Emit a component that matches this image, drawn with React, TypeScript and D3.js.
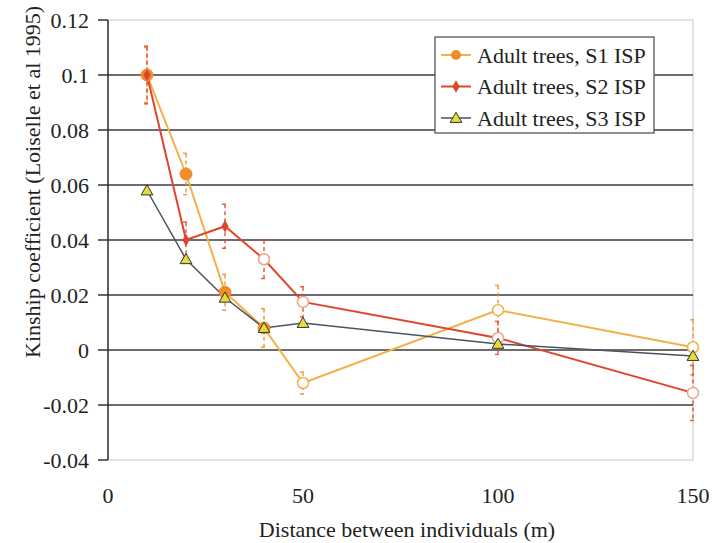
import React from "react";
import * as d3 from "d3";

// Distance classes (m) and kinship coefficients per sampling scheme
const distances = [10, 20, 30, 40, 50, 100, 150];
const s1Values = [0.1, 0.064, 0.021, 0.008, -0.012, 0.0145, 0.001];
const s1Errors = [0.01, 0.0075, 0.0065, 0.007, 0.004, 0.009, 0.01];
const s1Significant = [true, true, true, true, false, false, false];
const s2Values = [0.1, 0.04, 0.045, 0.033, 0.0175, 0.0044, -0.0156];
const s2Errors = [0.0105, 0.0065, 0.008, 0.007, 0.0055, 0.006, 0.01];
const s2Significant = [true, true, true, false, false, false, false];
const s3Values = [0.058, 0.033, 0.019, 0.008, 0.0098, 0.0022, -0.0022];

const yTicks = [-0.04, -0.02, 0, 0.02, 0.04, 0.06, 0.08, 0.1, 0.12];
const yTickLabels = ["-0.04", "-0.02", "0", "0.02", "0.04", "0.06", "0.08", "0.1", "0.12"];
const xTicks = [0, 50, 100, 150];
const legendLabels = ["Adult trees, S1 ISP", "Adult trees, S2 ISP", "Adult trees, S3 ISP"];

const W = 712;
const H = 543;
const FONT = "'Liberation Serif'";
const FS = 22;

const ORANGE_LINE = "#f2b148";
const ORANGE_MARK = "#f28c2a";
const RED = "#e0452b";
const DARK = "#4a5362";
const TRI_FILL = "#e3dc3c";

export default function App() {
  const x = d3.scaleLinear().domain([0, 150]).range([108, 693]);
  const y = d3.scaleLinear().domain([-0.04, 0.12]).range([460, 20]);
  const line = d3
    .line<[number, number]>()
    .x((d) => x(d[0]))
    .y((d) => y(d[1]));

  const pts = (vals: number[]) => distances.map((d, i) => [d, vals[i]] as [number, number]);
  const tri = d3.symbol().type(d3.symbolTriangle).size(60)();
  const diamond = d3.symbol().type(d3.symbolDiamond).size(45)();

  const errorBars = (vals: number[], errs: number[], color: string, key: string) =>
    distances.map((d, i) => {
      const cx = x(d);
      const y1 = y(vals[i] + errs[i]);
      const y2 = y(vals[i] - errs[i]);
      return (
        <g key={key + i} stroke={color} strokeWidth={1.5} opacity={0.85}>
          <line x1={cx} x2={cx} y1={y1} y2={y2} strokeDasharray="4,3" />
          <line x1={cx - 3} x2={cx + 1} y1={y1} y2={y1} />
          <line x1={cx - 3} x2={cx + 1} y1={y2} y2={y2} />
        </g>
      );
    });

  const [x0, x1] = x.range();
  const textStyle = { fontFamily: FONT };

  return (
    <svg width={W} height={H} style={{ position: "absolute", left: 0, top: 0, background: "#fff" }}>
      {/* plot frame */}
      <rect x={x0} y={y(0.12)} width={x1 - x0} height={y(-0.04) - y(0.12)} fill="none" stroke="#cfcfcf" strokeWidth={1.2} />

      {/* horizontal gridlines */}
      {yTicks
        .filter((t) => t > -0.04 && t < 0.12)
        .map((t) => (
          <line key={"g" + t} x1={x0} x2={x1} y1={y(t)} y2={y(t)} stroke="#3c3c3c" strokeWidth={1.6} />
        ))}

      {/* y axis */}
      <line x1={x0} x2={x0} y1={y(0.12)} y2={y(-0.04)} stroke="#333" strokeWidth={1.5} />
      {yTicks.map((t, i) => (
        <g key={"yt" + t}>
          <line x1={x0 - 10} x2={x0} y1={y(t)} y2={y(t)} stroke="#333" strokeWidth={1.5} />
          <text x={89} y={y(t)} dy="0.35em" textAnchor="end" fontSize={FS} fill="#222" style={textStyle}>
            {yTickLabels[i]}
          </text>
        </g>
      ))}

      {/* x tick labels */}
      {xTicks.map((t) => (
        <text key={"xt" + t} x={x(t)} y={503} textAnchor="middle" fontSize={FS} fill="#222" style={textStyle}>
          {t}
        </text>
      ))}

      {/* axis titles */}
      <text x={407} y={537} textAnchor="middle" fontSize={FS} fill="#222" style={textStyle}>
        Distance between individuals (m)
      </text>
      <text transform="translate(40,358) rotate(-90)" textAnchor="start" fontSize={FS} fill="#222" style={textStyle}>
        Kinship coefficient (Loiselle et al 1995)
      </text>

      {/* error bars */}
      {errorBars(s1Values, s1Errors, ORANGE_MARK, "e1")}
      {errorBars(s2Values, s2Errors, RED, "e2")}

      {/* series lines */}
      <path d={line(pts(s1Values)) || ""} fill="none" stroke={ORANGE_LINE} strokeWidth={2} />
      <path d={line(pts(s2Values)) || ""} fill="none" stroke={RED} strokeWidth={2} />
      <path d={line(pts(s3Values)) || ""} fill="none" stroke={DARK} strokeWidth={1.5} />

      {/* S1 markers */}
      {distances.map((d, i) =>
        s1Significant[i] ? (
          <circle key={"m1" + i} cx={x(d)} cy={y(s1Values[i])} r={6} fill={ORANGE_MARK} stroke={ORANGE_MARK} />
        ) : (
          <circle key={"m1" + i} cx={x(d)} cy={y(s1Values[i])} r={5.5} fill="#fff" stroke={ORANGE_LINE} strokeWidth={1.5} />
        )
      )}
      {/* S2 markers */}
      {distances.map((d, i) =>
        s2Significant[i] ? (
          <path key={"m2" + i} d={diamond || ""} transform={`translate(${x(d)},${y(s2Values[i])})`} fill={RED} />
        ) : (
          <circle key={"m2" + i} cx={x(d)} cy={y(s2Values[i])} r={5.5} fill="#fff" stroke="#f0a080" strokeWidth={1.5} />
        )
      )}
      {/* S3 markers */}
      {distances.map((d, i) => (
        <path
          key={"m3" + i}
          d={tri || ""}
          transform={`translate(${x(d)},${y(s3Values[i]) + 1})`}
          fill={TRI_FILL}
          stroke="#333"
          strokeWidth={1}
        />
      ))}

      {/* legend */}
      <g>
        <rect x={435} y={37} width={219} height={96} fill="#fff" stroke="#555" strokeWidth={1.3} />
        {legendLabels.map((lab, i) => {
          const ly = 55 + i * 31.5;
          return (
            <g key={"lg" + i}>
              <line x1={441} x2={471} y1={ly} y2={ly} stroke={i === 0 ? ORANGE_LINE : i === 1 ? RED : DARK} strokeWidth={i === 2 ? 1.5 : 2} />
              {i === 0 && <circle cx={456} cy={ly} r={5} fill={ORANGE_MARK} />}
              {i === 1 && <path d={diamond || ""} transform={`translate(456,${ly})`} fill={RED} />}
              {i === 2 && (
                <path d={tri || ""} transform={`translate(456,${ly + 1})`} fill={TRI_FILL} stroke="#333" strokeWidth={1} />
              )}
              <text x={477} y={ly} dy="0.35em" fontSize={FS} fill="#222" style={textStyle}>
                {lab}
              </text>
            </g>
          );
        })}
      </g>
    </svg>
  );
}
